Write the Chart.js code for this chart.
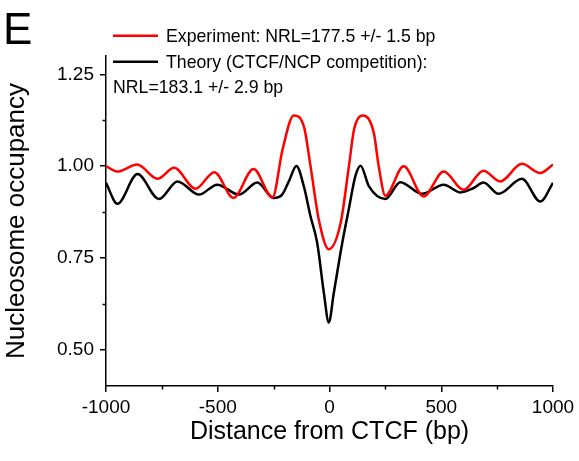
<!DOCTYPE html>
<html>
<head>
<meta charset="utf-8">
<script src="https://cdn.jsdelivr.net/npm/chart.js@4/dist/chart.umd.min.js"></script>
<style>
html,body{margin:0;padding:0;background:#fff;}
</style>
</head>
<body>
<canvas id="myChart" width="579" height="461"></canvas>
<script>
// experiment (red)
const expX=[-1000,-950,-860,-770,-695,-600,-515,-430,-340,-255,-210,-160,-115,-85,-48,-3,50,87,110,147,198,220,250,332,421,511,600,689,764,861,943,1000];
const expY=[1.000,0.985,1.004,0.965,0.995,0.938,0.983,0.913,0.992,0.914,1.045,1.138,1.109,1.000,0.854,0.773,0.845,1.000,1.100,1.138,1.091,1.000,0.919,0.999,0.917,0.985,0.935,0.987,0.958,1.006,0.981,1.004];
// theory (black)
const theoX=[-1000,-949,-859,-763,-680,-584,-502,-405,-323,-250,-212,-182,-148,-115,-85,-55,-25,-3,19,57,86,116,139,176,250,317,414,511,585,645,689,756,861,943,1000];
const theoY=[0.954,0.897,0.978,0.910,0.958,0.922,0.949,0.922,0.955,0.913,0.922,0.958,1.000,0.945,0.863,0.790,0.653,0.573,0.653,0.790,0.881,0.973,1.001,0.945,0.910,0.956,0.924,0.949,0.928,0.940,0.955,0.924,0.965,0.903,0.954];

const expLabel=['Experiment: NRL=177.5 +/- 1.5 bp'];
const theoLabel=['Theory (CTCF/NCP competition):','NRL=183.1 +/- 2.9 bp'];

const xTicks=[-1000,-500,0,500,1000];
const xMinor=[-750,-250,250,750];
const yTicks=[0.50,0.75,1.00,1.25];
const yMinor=[0.625,0.875,1.125];

const FONT='"Liberation Sans", Arial, sans-serif';

function pts(xs,ys){return xs.map((x,i)=>({x:x,y:ys[i]}));}

const extras={
  id:'extras',
  afterDraw(chart){
    const c=chart.ctx, a=chart.chartArea;
    const xs=chart.scales.x, ys=chart.scales.y;
    c.save();
    c.strokeStyle='#000';
    c.lineWidth=1.5;
    // minor ticks
    xMinor.forEach(v=>{
      const p=Math.round(xs.getPixelForValue(v))+0.5;
      c.beginPath();c.moveTo(p,a.bottom);c.lineTo(p,a.bottom+3.5);c.stroke();
    });
    yMinor.forEach(v=>{
      const p=Math.round(ys.getPixelForValue(v))+0.5;
      c.beginPath();c.moveTo(a.left,p);c.lineTo(a.left-3.5,p);c.stroke();
    });
    // legend
    c.fillStyle='#000';
    c.textBaseline='middle';
    c.textAlign='left';
    c.font='17.7px '+FONT;
    const sets=chart.data.datasets;
    const rows=[35.7,61.7];
    sets.forEach((d,i)=>{
      c.strokeStyle=d.borderColor;
      c.lineWidth=2.5;
      c.beginPath();c.moveTo(113,rows[i]);c.lineTo(158,rows[i]);c.stroke();
      const lab=d.label;
      c.fillText(lab[0],166,rows[i]+1);
      for(let k=1;k<lab.length;k++){
        c.fillText(lab[k],113,rows[i]+1+25*k);
      }
    });
    // axis titles
    c.textAlign='center';
    c.font='25px '+FONT;
    c.fillText('Distance from CTCF (bp)',(a.left+a.right)/2,432);
    c.save();
    c.translate(17,(a.top+a.bottom)/2);
    c.rotate(-Math.PI/2);
    c.font='26px '+FONT;
    c.fillText('Nucleosome occupancy',0,0);
    c.restore();
    // panel letter
    c.textAlign='left';
    c.textBaseline='alphabetic';
    c.font='44px '+FONT;
    c.fillText('E',3,44);
    c.restore();
  }
};

const ctx=document.getElementById('myChart');

new Chart(ctx,{
  type:'line',
  data:{
    datasets:[{
      label:expLabel,
      data:pts(expX,expY),
      borderColor:'#ff0000',
      borderWidth:2.5,
      pointRadius:0,
      cubicInterpolationMode:'monotone',
      fill:false
    },{
      label:theoLabel,
      data:pts(theoX,theoY),
      borderColor:'#000000',
      borderWidth:2.5,
      pointRadius:0,
      cubicInterpolationMode:'monotone',
      fill:false
    }]
  },
  options:{
    responsive:false,
    animation:false,
    devicePixelRatio:1,
    layout:{padding:{top:56,right:26,left:0,bottom:0}},
    plugins:{legend:{display:false},tooltip:{enabled:false},title:{display:false}},
    scales:{
      x:{
        type:'linear',
        min:-1000,max:1000,
        afterBuildTicks:s=>{s.ticks=xTicks.map(v=>({value:v}));},
        afterFit:s=>{s.height=75;},
        grid:{drawOnChartArea:false,tickLength:6,color:'#000',lineWidth:1.5},
        border:{color:'#000',width:1.5},
        ticks:{color:'#000',font:{family:FONT,size:19},padding:4,maxRotation:0,autoSkip:false,callback:v=>String(v)}
      },
      y:{
        min:0.40,max:1.30,
        afterBuildTicks:s=>{s.ticks=yTicks.map(v=>({value:v}));},
        afterFit:s=>{s.width=106;},
        grid:{drawOnChartArea:false,tickLength:6,color:'#000',lineWidth:1.5},
        border:{color:'#000',width:1.5},
        ticks:{color:'#000',font:{family:FONT,size:19},padding:6,callback:v=>Number(v).toFixed(2)}
      }
    }
  },
  plugins:[extras]
});
</script>
</body>
</html>
